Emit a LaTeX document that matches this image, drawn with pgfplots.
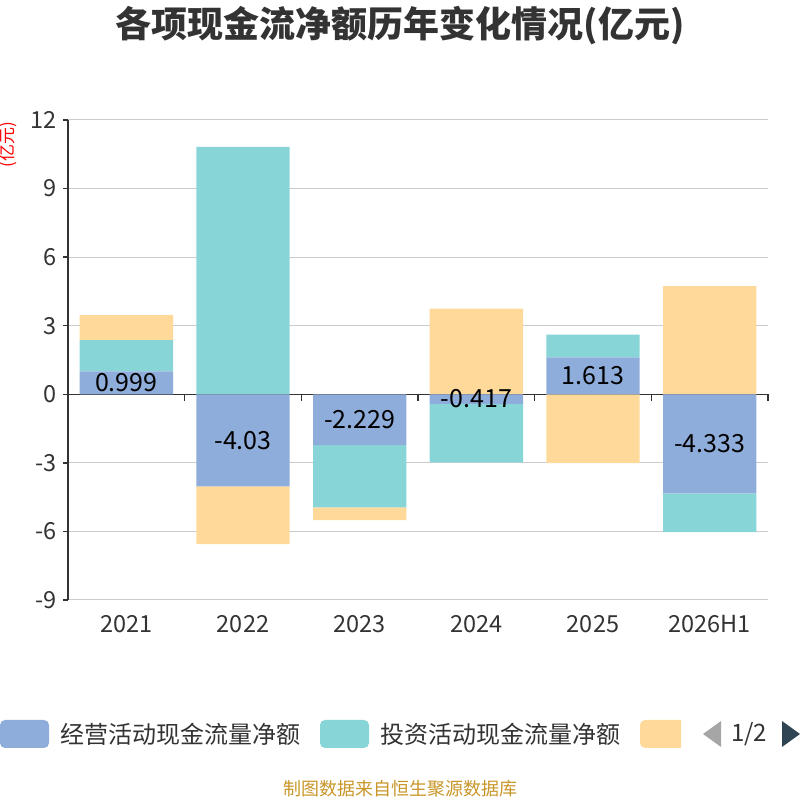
\documentclass[border=0pt]{standalone}
\usepackage{pgfplots}
\pgfplotsset{compat=1.18}
\usepackage{pgfplotstable}
\usepackage{fontspec}
\setmainfont{Noto Sans CJK SC}
\definecolor{cop}{RGB}{143,173,219}
\definecolor{cinv}{RGB}{136,213,216}
\definecolor{cthird}{RGB}{254,217,153}
\definecolor{ctxt}{RGB}{51,51,51}
\definecolor{cgrid}{RGB}{204,204,204}
\definecolor{cfoot}{RGB}{200,150,40}
\definecolor{carrow}{RGB}{47,69,84}
\pgfplotstableread{
x op inv third lbl
0 0.999 1.37 1.09 0.999
1 -4.03 10.82 -2.53 -4.03
2 -2.229 -2.72 -0.56 -2.229
3 -0.417 -2.56 3.75 -0.417
4 1.613 1.0 -3.01 1.613
5 -4.333 -1.70 4.73 -4.333
}\data
\begin{document}
\begin{tikzpicture}
\path[use as bounding box] (0,0) rectangle (800pt,800pt);
\begin{axis}[
  at={(68pt,200pt)}, anchor=south west,
  scale only axis, width=700pt, height=480pt,
  ybar stacked, bar width=0.8,
  xmin=-0.5, xmax=5.5, ymin=-9, ymax=12,
  ytick={-9,-6,-3,0,3,6,9,12},
  xtick=data, xticklabels={2021,2022,2023,2024,2025,2026H1},
  axis y line*=left, axis x line*=bottom,
  x axis line style={draw=none},
  y axis line style={draw=ctxt, line width=1.5pt, -},
  xtick style={draw=none},
  ytick style={draw=ctxt, line width=1.5pt},
  tick align=outside, major tick length=5pt,
  ymajorgrids, major grid style={cgrid, line width=1pt},
  extra y ticks={0}, extra y tick labels={},
  extra y tick style={major grid style={ctxt, line width=1.5pt}, ytick style={draw=none}},
  /pgf/number format/assume math mode=true,
  ticklabel style={font=\fontsize{23.5pt}{23.5pt}\selectfont, text=ctxt},
  xticklabel style={yshift=-7pt},
  yticklabel style={xshift=-3pt},
  clip=false,
]
\addplot[fill=cop, draw=none,
  point meta=explicit symbolic,
  nodes near coords={\pgfplotspointmeta},
  every node near coord/.append style={anchor=center,
    font=\fontsize{25pt}{25pt}\selectfont, text=black},
] table[x=x, y=op, meta=lbl]{\data};
\addplot[fill=cinv, draw=none] table[x=x, y=inv]{\data};
\addplot[fill=cthird, draw=none] table[x=x, y=third]{\data};
\foreach \k in {0.5,1.5,2.5,3.5,4.5,5.5}{
  \edef\tmp{\noexpand\draw[ctxt, line width=1.5pt] (axis cs:\k,0) -- ([yshift=-7pt]axis cs:\k,0);}\tmp
}
\end{axis}
% title
\node[font=\fontsize{36pt}{36pt}\selectfont\bfseries, text=ctxt] at (400pt,774pt) {各项现金流净额历年变化情况(亿元)};
% y unit
\node[font=\fontsize{17pt}{17pt}\selectfont, text=red, rotate=90] at (8pt,655pt) {(亿元)};
% legend
\fill[cop, rounded corners=5pt] (0pt,52pt) rectangle (49pt,80pt);
\node[anchor=west, font=\fontsize{24pt}{24pt}\selectfont, text=ctxt, inner sep=0pt] at (60pt,66pt) {经营活动现金流量净额};
\fill[cinv, rounded corners=5pt] (320pt,52pt) rectangle (369pt,80pt);
\node[anchor=west, font=\fontsize{24pt}{24pt}\selectfont, text=ctxt, inner sep=0pt] at (380pt,66pt) {投资活动现金流量净额};
\begin{scope}
\clip (640pt,40pt) rectangle (681pt,90pt);
\fill[cthird, rounded corners=5pt] (640pt,52pt) rectangle (689pt,80pt);
\end{scope}
\fill[gray!70] (721pt,79pt) -- (703pt,66pt) -- (721pt,53pt) -- cycle;
\node[anchor=west, font=\fontsize{24pt}{24pt}\selectfont, text=ctxt, inner sep=0pt] at (731pt,66pt) {1/2};
\fill[carrow] (782pt,79pt) -- (800pt,66pt) -- (782pt,53pt) -- cycle;
% footer
\node[font=\fontsize{18pt}{18pt}\selectfont, text=cfoot] at (400pt,11pt) {制图数据来自恒生聚源数据库};
\end{tikzpicture}
\end{document}
